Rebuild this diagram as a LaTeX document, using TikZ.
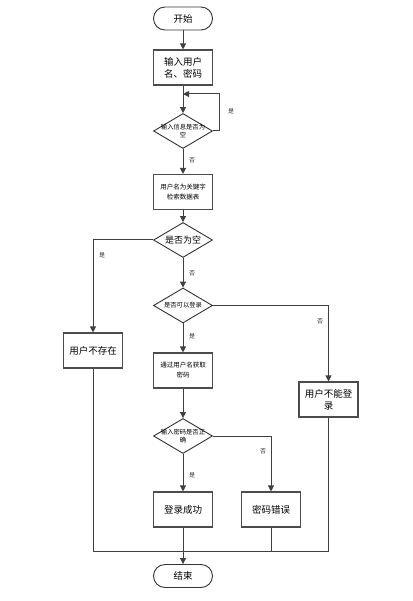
\documentclass[tikz,border=0pt]{standalone}
\usepackage{fontspec}
\setmainfont{Noto Sans CJK SC}
\usetikzlibrary{shapes.geometric,arrows.meta}
\tikzset{
  proc/.style={draw=black!70,line width=1.1pt,fill=white,minimum width=59pt,minimum height=35pt,inner sep=1pt,align=center,font=\fontsize{9.5}{12}\selectfont},
  proctxt/.style={proc,font=\fontsize{6.5}{10}\selectfont},
  term/.style={draw=black!80,line width=0.9pt,rounded corners=11.5pt,minimum width=59pt,minimum height=23pt,font=\fontsize{9.5}{12}\selectfont},
  decision/.style={draw=black!80,line width=0.9pt,diamond,minimum width=59pt,minimum height=35pt,inner sep=0pt},
  dtxt/.style={align=center,font=\fontsize{6.3}{8}\selectfont,inner sep=0pt},
  arr/.style={-{Triangle[length=6pt,width=6pt]}},
  yn/.style={font=\fontsize{6}{7}\selectfont,text=black!80},
}
\begin{document}
\begin{tikzpicture}[x=1pt,y=-1pt,line width=1pt,draw=black!75]
\useasboundingbox (0,0) rectangle (412,601);
% nodes
\node[term] (start) at (183,18.5) {开始};
\node[proc] (inp) at (183,67.5) {输入用户\\名、密码};
\node[decision,label={[dtxt]center:输入信息是否为\\空}] (chk1) at (183,131) {};
\node[proctxt] (kw) at (183,192) {用户名为关键字\\检索数据表};
\node[decision,label={[dtxt,font=\fontsize{9}{11}\selectfont]center:是否为空}] (chk2) at (183,240) {};
\node[proc] (none) at (93,350.5) {用户不存在};
\node[decision,label={[dtxt]center:是否可以登录}] (chk3) at (183,305.5) {};
\node[proctxt] (getpw) at (183,370.5) {通过用户名获取\\密码};
\node[proc] (deny) at (328.5,399.5) {用户不能登\\录};
\node[decision,label={[dtxt]center:输入密码是否正\\确}] (chk4) at (183,436) {};
\node[proc] (ok) at (183,509.5) {登录成功};
\node[proc] (err) at (271,509.5) {密码错误};
\node[term] (end) at (183,576) {结束};
\coordinate (lp) at (183,94);
\coordinate (mrg) at (183,551);
% connectors
\draw[arr] (start) -- (inp);
\draw[arr] (inp) -- (chk1);
\draw[arr] (chk1.east) -- ++(7,0) |- (lp);
\node[yn] (y1) at (231,111) {是};
\draw[arr] (chk1) -- (kw);
\node[yn] (n1) at (192,160) {否};
\draw[arr] (kw) -- (chk2);
\draw[arr] (chk2.west) -| (none.north);
\node[yn] (y2) at (102,255) {是};
\draw[arr] (chk2) -- (chk3);
\node[yn] (n2) at (192,273) {否};
\draw[arr] (chk3.east) -| (deny.north);
\node[yn] (n3) at (320,321) {否};
\draw[arr] (chk3) -- (getpw);
\node[yn] (y3) at (192,336) {是};
\draw[arr] (getpw) -- (chk4);
\draw[arr] (chk4.east) -| (err.north);
\node[yn] (n4) at (263,451) {否};
\draw[arr] (chk4) -- (ok);
\node[yn] (y4) at (192,475) {是};
\draw (none.south) |- (mrg);
\draw (deny.south) |- (mrg);
\draw (err.south) |- (mrg);
\draw[arr] (ok) -- (end);
\end{tikzpicture}
\end{document}
